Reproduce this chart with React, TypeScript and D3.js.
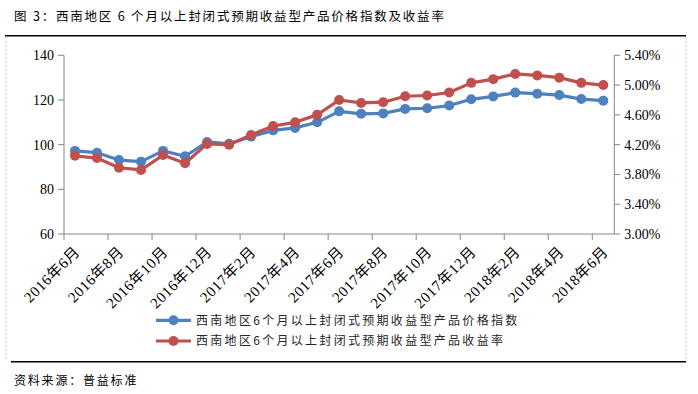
import React from "react";
import * as d3 from "d3";

const months = [
  "2016年6月", "2016年7月", "2016年8月", "2016年9月", "2016年10月", "2016年11月", "2016年12月",
  "2017年1月", "2017年2月", "2017年3月", "2017年4月", "2017年5月", "2017年6月", "2017年7月",
  "2017年8月", "2017年9月", "2017年10月", "2017年11月", "2017年12月", "2018年1月", "2018年2月",
  "2018年3月", "2018年4月", "2018年5月", "2018年6月",
];
const indexValues = [97.2, 96.4, 93.1, 92.4, 97.2, 94.8, 101.2, 100.4, 103.6, 106.4, 107.5, 110.0, 114.9, 113.8, 114.0, 116.0, 116.3, 117.5, 120.3, 121.6, 123.3, 122.8, 122.2, 120.4, 119.7];
const yieldValues = [4.05, 4.02, 3.89, 3.86, 4.06, 3.95, 4.21, 4.2, 4.33, 4.45, 4.5, 4.6, 4.8, 4.76, 4.77, 4.85, 4.86, 4.9, 5.03, 5.08, 5.15, 5.13, 5.1, 5.03, 5.0];
const leftTicks = [60, 80, 100, 120, 140];
const rightTicks = [3.0, 3.4, 3.8, 4.2, 4.6, 5.0, 5.4];
const seriesNames = ["西南地区6个月以上封闭式预期收益型产品价格指数", "西南地区6个月以上封闭式预期收益型产品收益率"];
const title = "图 3：西南地区 6 个月以上封闭式预期收益型产品价格指数及收益率";
const source = "资料来源：普益标准";

const BLUE = "#4F81BD";
const RED = "#C0504D";
const AXIS = "#868686";
const SERIF = "'Liberation Serif', 'Noto Sans CJK SC', serif";
const CJK = "'Noto Sans CJK SC', sans-serif";

export default function App() {
  const left = 64, right = 614.3, top = 55.3, bottom = 234;
  const x = d3.scaleBand<string>().domain(months).range([left, right]).padding(0);
  const cx = (m: string) => (x(m) as number) + x.bandwidth() / 2;
  const yL = d3.scaleLinear().domain([60, 140]).range([bottom, top]);
  const yR = d3.scaleLinear().domain([3.0, 5.4]).range([bottom, top]);

  const lineL = d3.line<number>().x((_, i) => cx(months[i])).y((d) => yL(d));
  const lineR = d3.line<number>().x((_, i) => cx(months[i])).y((d) => yR(d));

  const tickIdx = months.map((_, i) => i).filter((i) => i % 2 === 0);

  return (
    <svg width={698} height={394} style={{ position: "absolute", left: 0, top: 0, background: "#fff" }}>
      <text x={14} y={21} fontFamily={CJK} fontSize={12.5} fill="#000" letterSpacing={1.8}>{title}</text>
      <line x1={5} x2={686} y1={35.7} y2={35.7} stroke="#000" strokeWidth={1.5} />
      <line x1={6} x2={6} y1={37} y2={361} stroke="#c8c8c8" strokeDasharray="2,2" />
      <line x1={686} x2={686} y1={37} y2={361} stroke="#c8c8c8" strokeDasharray="2,2" />
      <line x1={11} x2={686} y1={361.7} y2={361.7} stroke="#000" strokeWidth={1.5} />

      {/* left axis */}
      <line x1={left} x2={left} y1={top} y2={bottom} stroke={AXIS} />
      {leftTicks.map((t) => (
        <g key={t}>
          <line x1={left - 6} x2={left} y1={yL(t)} y2={yL(t)} stroke={AXIS} />
          <text x={left - 10} y={yL(t)} dy="0.35em" textAnchor="end" fontFamily={SERIF} fontSize={14} fill="#000">{t}</text>
        </g>
      ))}
      {/* right axis */}
      <line x1={right} x2={right} y1={top} y2={bottom} stroke={AXIS} />
      {rightTicks.map((t) => (
        <g key={t}>
          <line x1={right} x2={right + 6} y1={yR(t)} y2={yR(t)} stroke={AXIS} />
          <text x={right + 10} y={yR(t)} dy="0.35em" textAnchor="start" fontFamily={SERIF} fontSize={14} fill="#000">{t.toFixed(2) + "%"}</text>
        </g>
      ))}
      {/* bottom axis */}
      <line x1={left} x2={right} y1={bottom} y2={bottom} stroke={AXIS} />
      {tickIdx.map((i) => (
        <line key={"t" + i} x1={x(months[i]) as number} x2={x(months[i]) as number} y1={bottom} y2={bottom + 6} stroke={AXIS} />
      ))}
      {tickIdx.map((i) => (
        <text key={"l" + i} transform={`translate(${cx(months[i]) + 2},${bottom + 15}) rotate(-45)`} textAnchor="end" dy="0.35em" fontFamily={SERIF} fontSize={15} letterSpacing={0.6} fill="#000">{months[i]}</text>
      ))}

      {/* series */}
      <path d={lineL(indexValues) as string} fill="none" stroke={BLUE} strokeWidth={3.2} strokeLinejoin="round" />
      {indexValues.map((v, i) => (
        <circle key={"b" + i} cx={cx(months[i])} cy={yL(v)} r={5} fill={BLUE} />
      ))}
      <path d={lineR(yieldValues) as string} fill="none" stroke={RED} strokeWidth={3.2} strokeLinejoin="round" />
      {yieldValues.map((v, i) => (
        <circle key={"r" + i} cx={cx(months[i])} cy={yR(v)} r={5} fill={RED} />
      ))}

      {/* legend */}
      {[BLUE, RED].map((c, i) => (
        <g key={c} transform={`translate(0,${320.3 + i * 20.7})`}>
          <line x1={156} x2={191} y1={0} y2={0} stroke={c} strokeWidth={3.2} />
          <circle cx={173.5} cy={0} r={5} fill={c} />
          <text x={196} y={0} dy="0.36em" fontFamily={CJK} fontSize={12} fill="#262626" letterSpacing={2.3}>{seriesNames[i]}</text>
        </g>
      ))}

      <text x={14} y={381} dy="0.36em" fontFamily={CJK} fontSize={12} fill="#000" letterSpacing={1.8}>{source}</text>
    </svg>
  );
}
